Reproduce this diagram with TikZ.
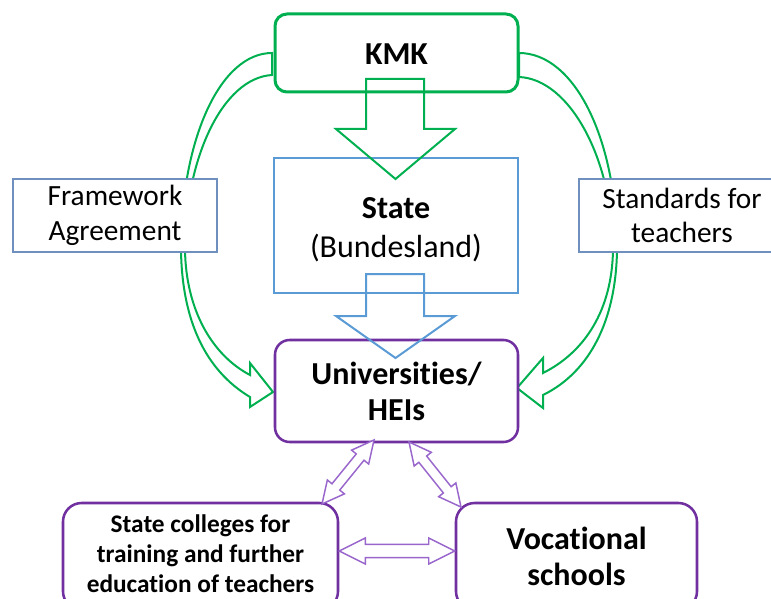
\documentclass[tikz,border=0pt]{standalone}
\usepackage{fontspec}
\setmainfont{Carlito}[Ligatures=NoCommon]
\usetikzlibrary{calc}
\definecolor{kgreen}{HTML}{00B050}
\definecolor{sblue}{HTML}{5B9BD5}
\definecolor{fblue}{HTML}{6F8FBF}
\definecolor{upurple}{HTML}{7030A0}
\definecolor{apurple}{HTML}{9966CC}
\newcommand\hollowdbl[6]{%
  \draw[#1] (#2) -- ($(#2)!#4!(#3)!#5!90:(#3)$) -- ($(#2)!#4!(#3)!#6!90:(#3)$)
   -- ($(#3)!#4!(#2)!#6!-90:(#2)$) -- ($(#3)!#4!(#2)!#5!-90:(#2)$) -- (#3)
   -- ($(#3)!#4!(#2)!#5!90:(#2)$) -- ($(#3)!#4!(#2)!#6!90:(#2)$)
   -- ($(#2)!#4!(#3)!#6!-90:(#3)$) -- ($(#2)!#4!(#3)!#5!-90:(#3)$) -- cycle;}
\begin{document}
\begin{tikzpicture}[x=0.75pt,y=-0.75pt,
  kmkbox/.style={draw=kgreen, line width=2.25pt, rounded corners=9pt, fill=white,
    minimum width=182.25pt, minimum height=58.5pt, inner sep=0pt, align=center,
    text height=18pt, text depth=0pt,
    font=\fontsize{24}{28}\selectfont\bfseries},
  statebox/.style={draw=sblue, line width=1.5pt, fill=white,
    minimum width=183pt, minimum height=101.25pt, inner sep=0pt},
  sidebox/.style={draw=fblue, line width=1.1pt, fill=white,
    minimum height=54.75pt, inner sep=0pt, align=center,
    font=\fontsize{22}{26}\selectfont},
  purplebox/.style={draw=upurple, line width=1.9pt, fill=white, inner sep=0pt, align=center},
  label/.style={inner sep=0pt, align=center},
  greenarrow/.style={draw=kgreen, line width=1.5pt, line join=miter},
  bluearrow/.style={draw=sblue, line width=1.5pt, line join=miter},
  purplearrow/.style={draw=apurple, line width=1.1pt, line join=miter, fill=white}]
\useasboundingbox (0,0) rectangle (771,599);
\clip (0,0) rectangle (771,599);
% curved green block arrows (behind the side boxes)
\draw[greenarrow] (272,53) .. controls (220,53) and (181,140) .. (181,250)
  .. controls (182,320) and (205,370) .. (250,397) -- (250,407) -- (273,392)
  -- (250,363) -- (250,375) .. controls (212,355) and (186,310) .. (185,250)
  .. controls (185,160) and (222,78) .. (272,75) -- cycle;
\draw[greenarrow] (519,53) .. controls (575,53) and (617,140) .. (617,250)
  .. controls (616,320) and (590,372) .. (543,395) -- (543,408) -- (517,388)
  -- (543,358) -- (543,373) .. controls (585,352) and (612,310) .. (613,250)
  .. controls (613,160) and (570,79) .. (519,77) -- cycle;
% boxes
\node[kmkbox] (kmk) at (396.5,53) {KMK};
\node[statebox] (state) at (396,225.5) {};
\node[label, font=\fontsize{24}{29.5}\selectfont] (statetext) at (396,229.5)
  {\textbf{State}\\(Bundesland)};
\node[sidebox, minimum width=153pt] (frame) at (115,215.5) {Framework\\Agreement};
\node[sidebox, minimum width=154.5pt] (stand) at (682,215.5) {Standards for\\teachers};
\node[purplebox, rounded corners=11pt, minimum width=182.25pt, minimum height=76.5pt,
  font=\fontsize{24}{27}\selectfont\bfseries] (univ) at (396.5,391) {Universities/\\HEIs};
\node[purplebox, rounded corners=14pt, minimum width=206.25pt, minimum height=80.25pt]
  (cols) at (200.5,556.5) {};
\node[label, font=\fontsize{19}{22.5}\selectfont\bfseries] (colstext) at (200.5,553.5)
  {State colleges for\\training and further\\education of teachers};
\node[purplebox, rounded corners=14pt, minimum width=180.75pt, minimum height=80.25pt,
  font=\fontsize{24}{27.5}\selectfont\bfseries] (voc) at (576.5,556.5) {Vocational\\schools};
% straight block arrows
\draw[greenarrow] (366,79) -- (424,79) -- (424,129) -- (455,129) -- (395.5,179)
  -- (336,129) -- (366,129) -- cycle;
\draw[bluearrow] (366,274) -- (424,274) -- (424,316) -- (455,316) -- (395.5,358)
  -- (336,316) -- (366,316) -- cycle;
% purple double arrows
\coordinate (d1a) at (374,440);
\coordinate (d1b) at (322,504);
\coordinate (d2a) at (409,442);
\coordinate (d2b) at (461,507);
\coordinate (h1a) at (cols.east |- 0,551);
\coordinate (h1b) at (voc.west |- 0,551);
\hollowdbl{purplearrow}{d1a}{d1b}{16.5pt}{8.25pt}{3.75pt}
\hollowdbl{purplearrow}{d2a}{d2b}{16.5pt}{8.25pt}{3.75pt}
\hollowdbl{purplearrow}{h1a}{h1b}{19.5pt}{9.75pt}{4.9pt}
\end{tikzpicture}
\end{document}
